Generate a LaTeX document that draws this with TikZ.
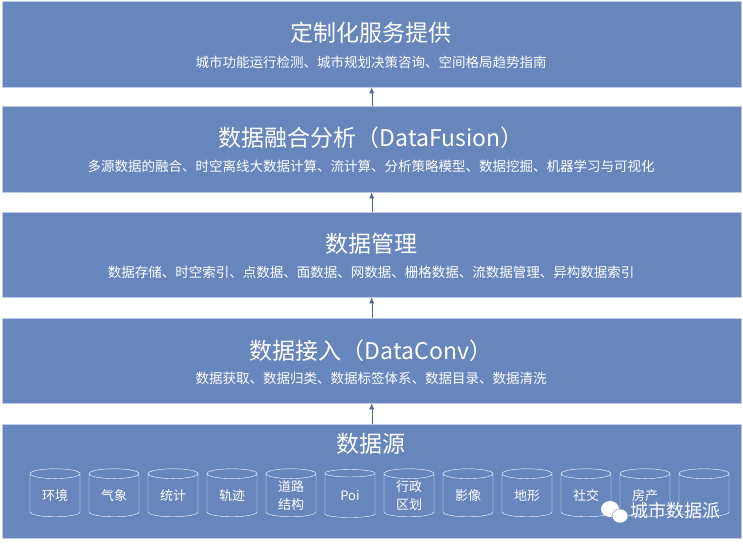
\documentclass[tikz,border=0pt]{standalone}
\usepackage{fontspec}
\newfontfamily\cjk{Noto Sans CJK SC}
\usetikzlibrary{positioning, arrows.meta, shapes.geometric}
\definecolor{bandblue}{RGB}{104,133,188}
\definecolor{bandedge}{RGB}{190,205,230}
\tikzset{
  band/.style={draw=bandedge, fill=bandblue, minimum width=739pt, anchor=north west, inner sep=0pt},
  title/.style={text=white, font=\cjk\fontsize{23}{25}\selectfont},
  sub/.style={text=white, font=\cjk\fontsize{13.5}{15}\selectfont},
  store/.style={cylinder, shape border rotate=90, aspect=0.35, draw=white, thin,
    minimum width=50pt, minimum height=48pt, text=white, align=center,
    font=\cjk\fontsize{13}{18}\selectfont, inner sep=1pt},
  up/.style={-{Latex[length=6pt,width=5pt]}, draw=bandblue!80!black, thin}
}
\begin{document}
\begin{tikzpicture}[x=1pt, y=-1pt]
    % canvas
    \useasboundingbox[fill=white] (0,0) rectangle (743,543);

    % layers
    \node[band, minimum height=86pt] (service) at (2,1) {};
    \node[band, minimum height=86pt] (fusion) at (2,106) {};
    \node[band, minimum height=85pt] (manage) at (2,212) {};
    \node[band, minimum height=85pt] (access) at (2,318) {};
    \node[band, minimum height=114pt] (source) at (2,424) {};

    % titles and notes
    \node[title] (t1) at (371,33) {定制化服务提供};
    \node[sub] (s1) at (371,62) {城市功能运行检测、城市规划决策咨询、空间格局趋势指南};
    \node[title] (t2) at (371,138) {数据融合分析（DataFusion）};
    \node[sub] (s2) at (371,166) {多源数据的融合、时空离线大数据计算、流计算、分析策略模型、数据挖掘、机器学习与可视化};
    \node[title] (t3) at (371,244) {数据管理};
    \node[sub] (s3) at (371,272) {数据存储、时空索引、点数据、面数据、网数据、栅格数据、流数据管理、异构数据索引};
    \node[title] (t4) at (371,351) {数据接入（DataConv）};
    \node[sub] (s4) at (371,378) {数据获取、数据归类、数据标签体系、数据目录、数据清洗};
    \node[title] (t5) at (371,444) {数据源};

    % arrows between layers
    \draw[up] (access.north |- 0,424) -- (access.south);
    \draw[up] (manage.north |- 0,318) -- (manage.south);
    \draw[up] (fusion.north |- 0,212) -- (fusion.south);
    \draw[up] (service.north |- 0,106) -- (service.south);

    % data stores
    \foreach \lbl [count=\i] in {环境,气象,统计,轨迹,道路\\结构,Poi,行政\\区划,影像,地形,社交,房产,\phantom{环境}}
    {
        \node[store] (db\i) at ({55+59*(\i-1)},496) {\lbl};
    }

    % watermark
    \fill[white] (610,509) ellipse[x radius=9, y radius=8];
    \fill[white, draw=bandblue] (620,516) ellipse[x radius=8, y radius=7];
    \node[text=white, font=\cjk\fontsize{18}{20}\selectfont, anchor=west] (mark) at (627,511) {城市数据派};
\end{tikzpicture}
\end{document}
